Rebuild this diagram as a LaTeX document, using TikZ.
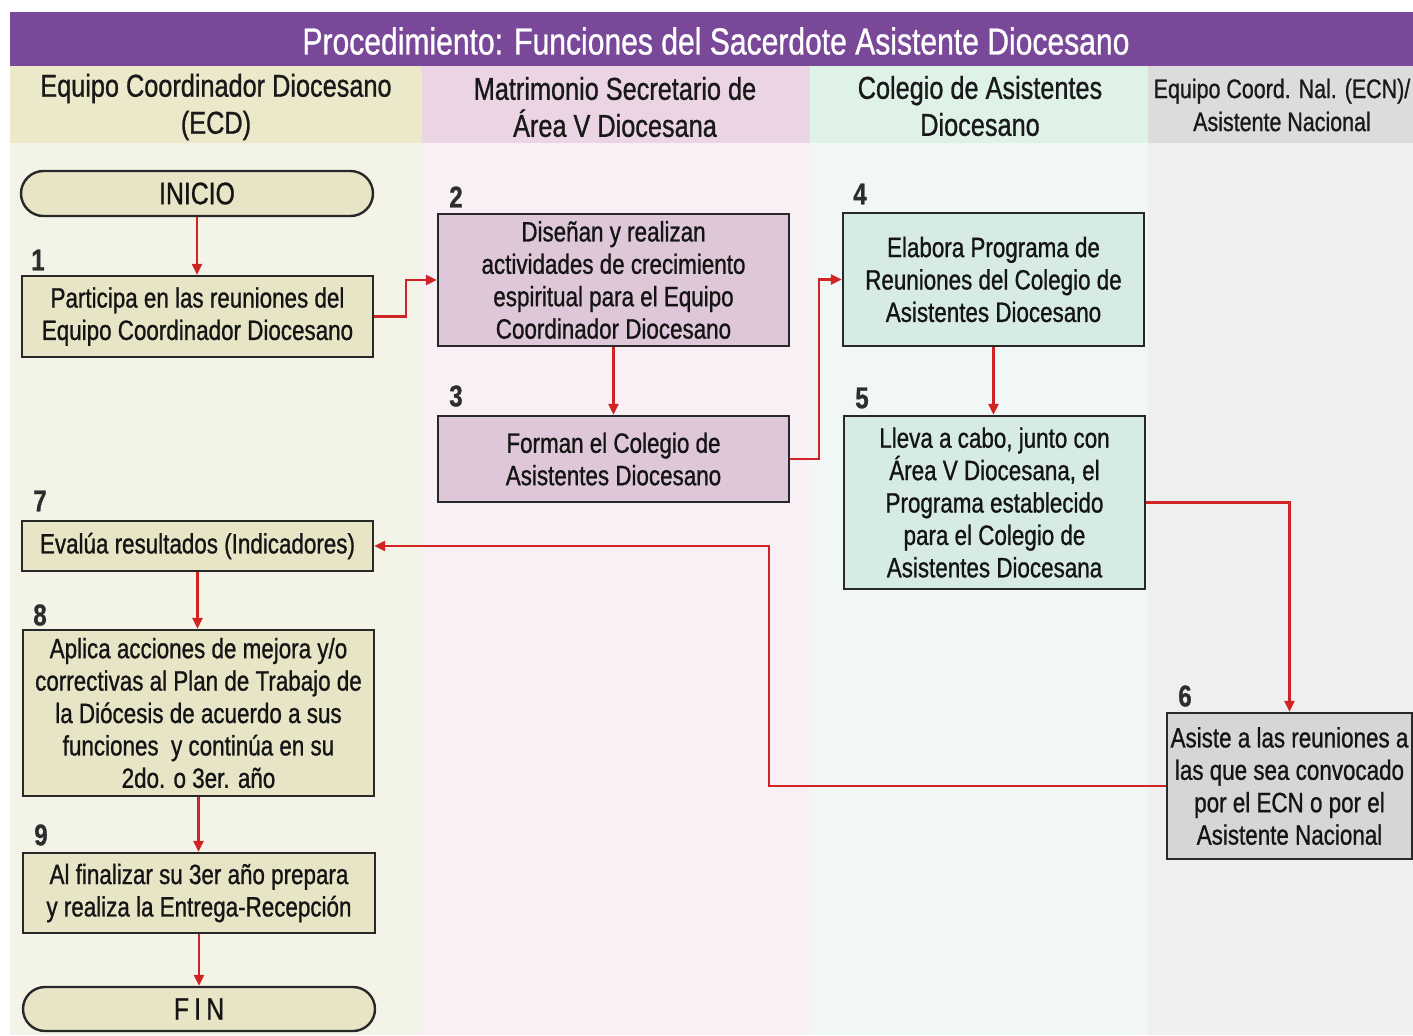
\documentclass[tikz,border=0pt]{standalone}
\usepackage{fontspec}
\setmainfont{Liberation Sans}[FakeStretch=0.8,FakeBold=0.9]
\usetikzlibrary{arrows.meta,shapes.misc}
\definecolor{band}{RGB}{122,72,152}
\definecolor{hA}{RGB}{236,232,202}
\definecolor{hB}{RGB}{235,212,228}
\definecolor{hC}{RGB}{222,242,232}
\definecolor{hD}{RGB}{220,220,220}
\definecolor{bA}{RGB}{244,243,232}
\definecolor{bB}{RGB}{249,240,245}
\definecolor{bC}{RGB}{241,247,244}
\definecolor{bD}{RGB}{239,239,239}
\definecolor{fA}{RGB}{232,228,198}
\definecolor{fB}{RGB}{222,199,216}
\definecolor{fC}{RGB}{214,236,226}
\definecolor{fD}{RGB}{214,214,214}
\definecolor{edge}{RGB}{40,40,40}
\definecolor{flow}{RGB}{208,36,36}
\definecolor{numc}{RGB}{45,45,45}
\begin{document}
\begin{tikzpicture}[x=0.5pt,y=-0.5pt,
  stepbox/.style={draw=edge,line width=1.2pt,inner sep=0pt,align=center,
    font=\fontsize{14}{16.2}\selectfont,text=black!92},
  term/.style={stepbox,rounded rectangle,fill=fA},
  num/.style={font=\fontsize{15}{16}\selectfont\bfseries,text=numc},
  lanehead/.style={align=center,font=\fontsize{15.8}{18.5}\selectfont,text=black!90},
  flowline/.style={draw=flow,line width=1.2pt,-{Triangle[length=5.5pt,width=5pt]}}]
\useasboundingbox (0,0) rectangle (1413,1035);
% lanes
\fill[bA] (10,143) rectangle (422,1035);
\fill[bB] (422,143) rectangle (810,1035);
\fill[bC] (810,143) rectangle (1148,1035);
\fill[bD] (1148,143) rectangle (1413,1035);
\fill[hA] (10,66) rectangle (422,143);
\fill[hB] (422,66) rectangle (810,143);
\fill[hC] (810,66) rectangle (1148,143);
\fill[hD] (1148,66) rectangle (1413,143);
\fill[band] (10,12) rectangle (1413,66);
\node[font=\fontsize{18.8}{20}\selectfont,text=white] (title) at (716,41) {Procedimiento: Funciones del Sacerdote Asistente Diocesano};
\node[lanehead] (hdA) at (216,107) {Equipo Coordinador Diocesano\\(ECD)};
\node[lanehead] (hdB) at (615,107) {Matrimonio Secretario de\\Área V Diocesana};
\node[lanehead] (hdC) at (980,106) {Colegio de Asistentes\\Diocesano};
\node[lanehead,font=\fontsize{13.4}{16.5}\selectfont] (hdD) at (1282,105) {Equipo Coord. Nal. (ECN)/\\Asistente Nacional};
% nodes
\node[term,minimum width=176pt,minimum height=22.5pt,font=\fontsize{15.5}{17}\selectfont] (ini) at (197,193.5) {INICIO};
\node[stepbox,fill=fA,minimum width=175.5pt,minimum height=40.5pt] (n1) at (197.5,316.5) {Participa en las reuniones del\\Equipo Coordinador Diocesano};
\node[stepbox,fill=fB,minimum width=175.5pt,minimum height=66pt] (n2) at (613.5,280) {Diseñan y realizan\\actividades de crecimiento\\espiritual para el Equipo\\Coordinador Diocesano};
\node[stepbox,fill=fB,minimum width=175.5pt,minimum height=43pt] (n3) at (613.5,459) {Forman el Colegio de\\Asistentes Diocesano};
\node[stepbox,fill=fC,minimum width=150.5pt,minimum height=66.5pt] (n4) at (993.5,279.5) {Elabora Programa de\\Reuniones del Colegio de\\Asistentes Diocesano};
\node[stepbox,fill=fC,minimum width=150.5pt,minimum height=86.5pt] (n5) at (994.5,502.5) {Lleva a cabo, junto con\\Área V Diocesana, el\\Programa establecido\\para el Colegio de\\Asistentes Diocesana};
\node[stepbox,fill=fD,minimum width=122.5pt,minimum height=73pt] (n6) at (1289.5,786) {Asiste a las reuniones a\\las que sea convocado\\por el ECN o por el\\Asistente Nacional};
\node[stepbox,fill=fA,minimum width=175.5pt,minimum height=25pt] (n7) at (197.5,546) {Evalúa resultados (Indicadores)};
\node[stepbox,fill=fA,minimum width=175.5pt,minimum height=83pt] (n8) at (198.5,713) {Aplica acciones de mejora y/o\\correctivas al Plan de Trabajo de\\la Diócesis de acuerdo a sus\\funciones\ \ y continúa en su\\2do. o 3er. año};
\node[stepbox,fill=fA,minimum width=176pt,minimum height=40pt] (n9) at (199,893) {Al finalizar su 3er año prepara\\y realiza la Entrega-Recepción};
\node[term,minimum width=176pt,minimum height=22pt,font=\fontsize{15.5}{17}\selectfont] (fin) at (199,1009) {F\,I\,N};
% numbers
\node[num] (k1) at (38,260) {1};
\node[num] (k2) at (456,197) {2};
\node[num] (k3) at (456,396) {3};
\node[num] (k4) at (860,194) {4};
\node[num] (k5) at (862,398) {5};
\node[num] (k6) at (1185,696) {6};
\node[num] (k7) at (40,501) {7};
\node[num] (k8) at (40,615) {8};
\node[num] (k9) at (41,835) {9};
% connectors
\draw[flowline] (ini.south) -- (ini.south |- n1.north);
\draw[flowline] (n1.east) -- ++(32,0) |- (n2.west);
\draw[flowline] (n2.south) -- (n3.north);
\draw[flowline] (n3.east) -- ++(29,0) |- (n4.west);
\draw[flowline] (n4.south) -- (n4.south |- n5.north);
\draw[flowline] (n5.east) -| (n6.north);
\draw[flowline] (n6.west) -- ++(-397,0) |- (n7.east);
\draw[flowline] (n7.south) -- (n7.south |- n8.north);
\draw[flowline] (n8.south) -- (n8.south |- n9.north);
\draw[flowline] (n9.south) -- (n9.south |- fin.north);
\end{tikzpicture}
\end{document}
